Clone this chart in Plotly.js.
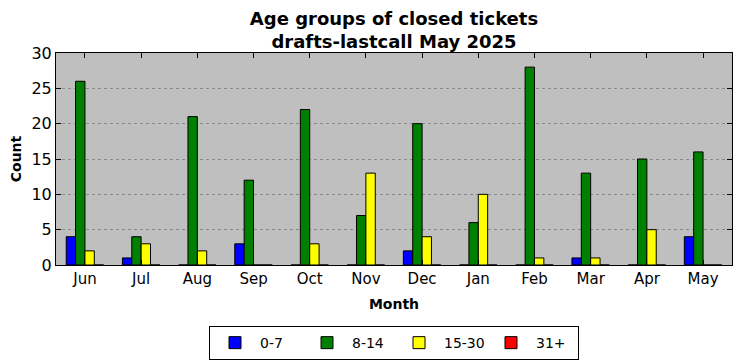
<!DOCTYPE html>
<html>
<head>
<meta charset="utf-8">
<script src="https://cdn.plot.ly/plotly-3.0.1.min.js"></script>
<style>html,body{margin:0;padding:0;background:#fff;}#chart{width:742px;height:361px;}</style>
</head>
<body>
<div id="chart"></div>
<script>
const months = ["Jun","Jul","Aug","Sep","Oct","Nov","Dec","Jan","Feb","Mar","Apr","May"];
const seriesNames = ["0-7","8-14","15-30","31+"];
const age0to7   = [4, 1, 0, 3, 0, 0, 2, 0, 0, 1, 0, 4];
const age8to14  = [26, 4, 21, 12, 22, 7, 20, 6, 28, 13, 15, 16];
const age15to30 = [2, 3, 2, 0, 3, 13, 4, 10, 1, 1, 5, 0];
const age31plus = [0, 0, 0, 0, 0, 0, 0, 0, 0, 0, 0, 0];
const colors = ["#0000ff","#008000","#ffff00","#ff0000"];
const yTicks = [0,5,10,15,20,25,30];

const xIdx = months.map((_, i) => i);
const allSeries = [age0to7, age8to14, age15to30, age31plus];
const traces = allSeries.map((vals, k) => ({
  type: "bar",
  name: seriesNames[k],
  x: xIdx,
  y: vals,
  marker: {color: colors[k], line: {color: "#000", width: 1}},
  hoverinfo: "skip"
}));

const font = {family: "DejaVu Sans, sans-serif", color: "#000"};
const layout = {
  width: 742, height: 361,
  margin: {l: 56, r: 10, t: 53, b: 96, autoexpand: false},
  paper_bgcolor: "#ffffff",
  plot_bgcolor: "#bfbfbf",
  font: Object.assign({size: 15}, font),
  barmode: "group",
  bargap: 1/3,
  bargroupgap: 0,
  title: {
    text: "<b>Age groups of closed tickets<br>drafts-lastcall May 2025</b>",
    font: Object.assign({}, font, {size: 18}),
    x: 0.531, xanchor: "center",
    yref: "container", y: 0.931, yanchor: "top",
    automargin: false
  },
  xaxis: {
    range: [-0.515, 11.515],
    tickmode: "array", tickvals: xIdx, ticktext: months,
    ticks: "inside", ticklen: 5, tickcolor: "#000",
    showline: true, linecolor: "#000", linewidth: 1, mirror: "ticks",
    showgrid: false, zeroline: false, automargin: false,
    tickfont: Object.assign({}, font, {size: 15}),
    title: {text: "<b>Month</b>", font: Object.assign({}, font, {size: 14}), standoff: 12}
  },
  yaxis: {
    range: [0, 30],
    tickmode: "array", tickvals: yTicks,
    ticks: "inside", ticklen: 5, tickcolor: "#000",
    showline: true, linecolor: "#000", linewidth: 1, mirror: "ticks",
    showgrid: true, gridcolor: "#8a8a8a", griddash: "dot", gridwidth: 1,
    zeroline: false, automargin: false,
    tickfont: Object.assign({}, font, {size: 16}),
    title: {text: "<b>Count</b>", font: Object.assign({}, font, {size: 14}), standoff: 6}
  },
  legend: {
    orientation: "h",
    x: 0.5, xanchor: "center",
    y: -0.288, yanchor: "top",
    bordercolor: "#000", borderwidth: 1,
    bgcolor: "#fff",
    font: Object.assign({}, font, {size: 14}),
    traceorder: "normal",
    itemwidth: 40,
    entrywidth: 37
  },
  showlegend: true
};

Plotly.newPlot("chart", traces, layout, {displayModeBar: false, staticPlot: true});
</script>
</body>
</html>
